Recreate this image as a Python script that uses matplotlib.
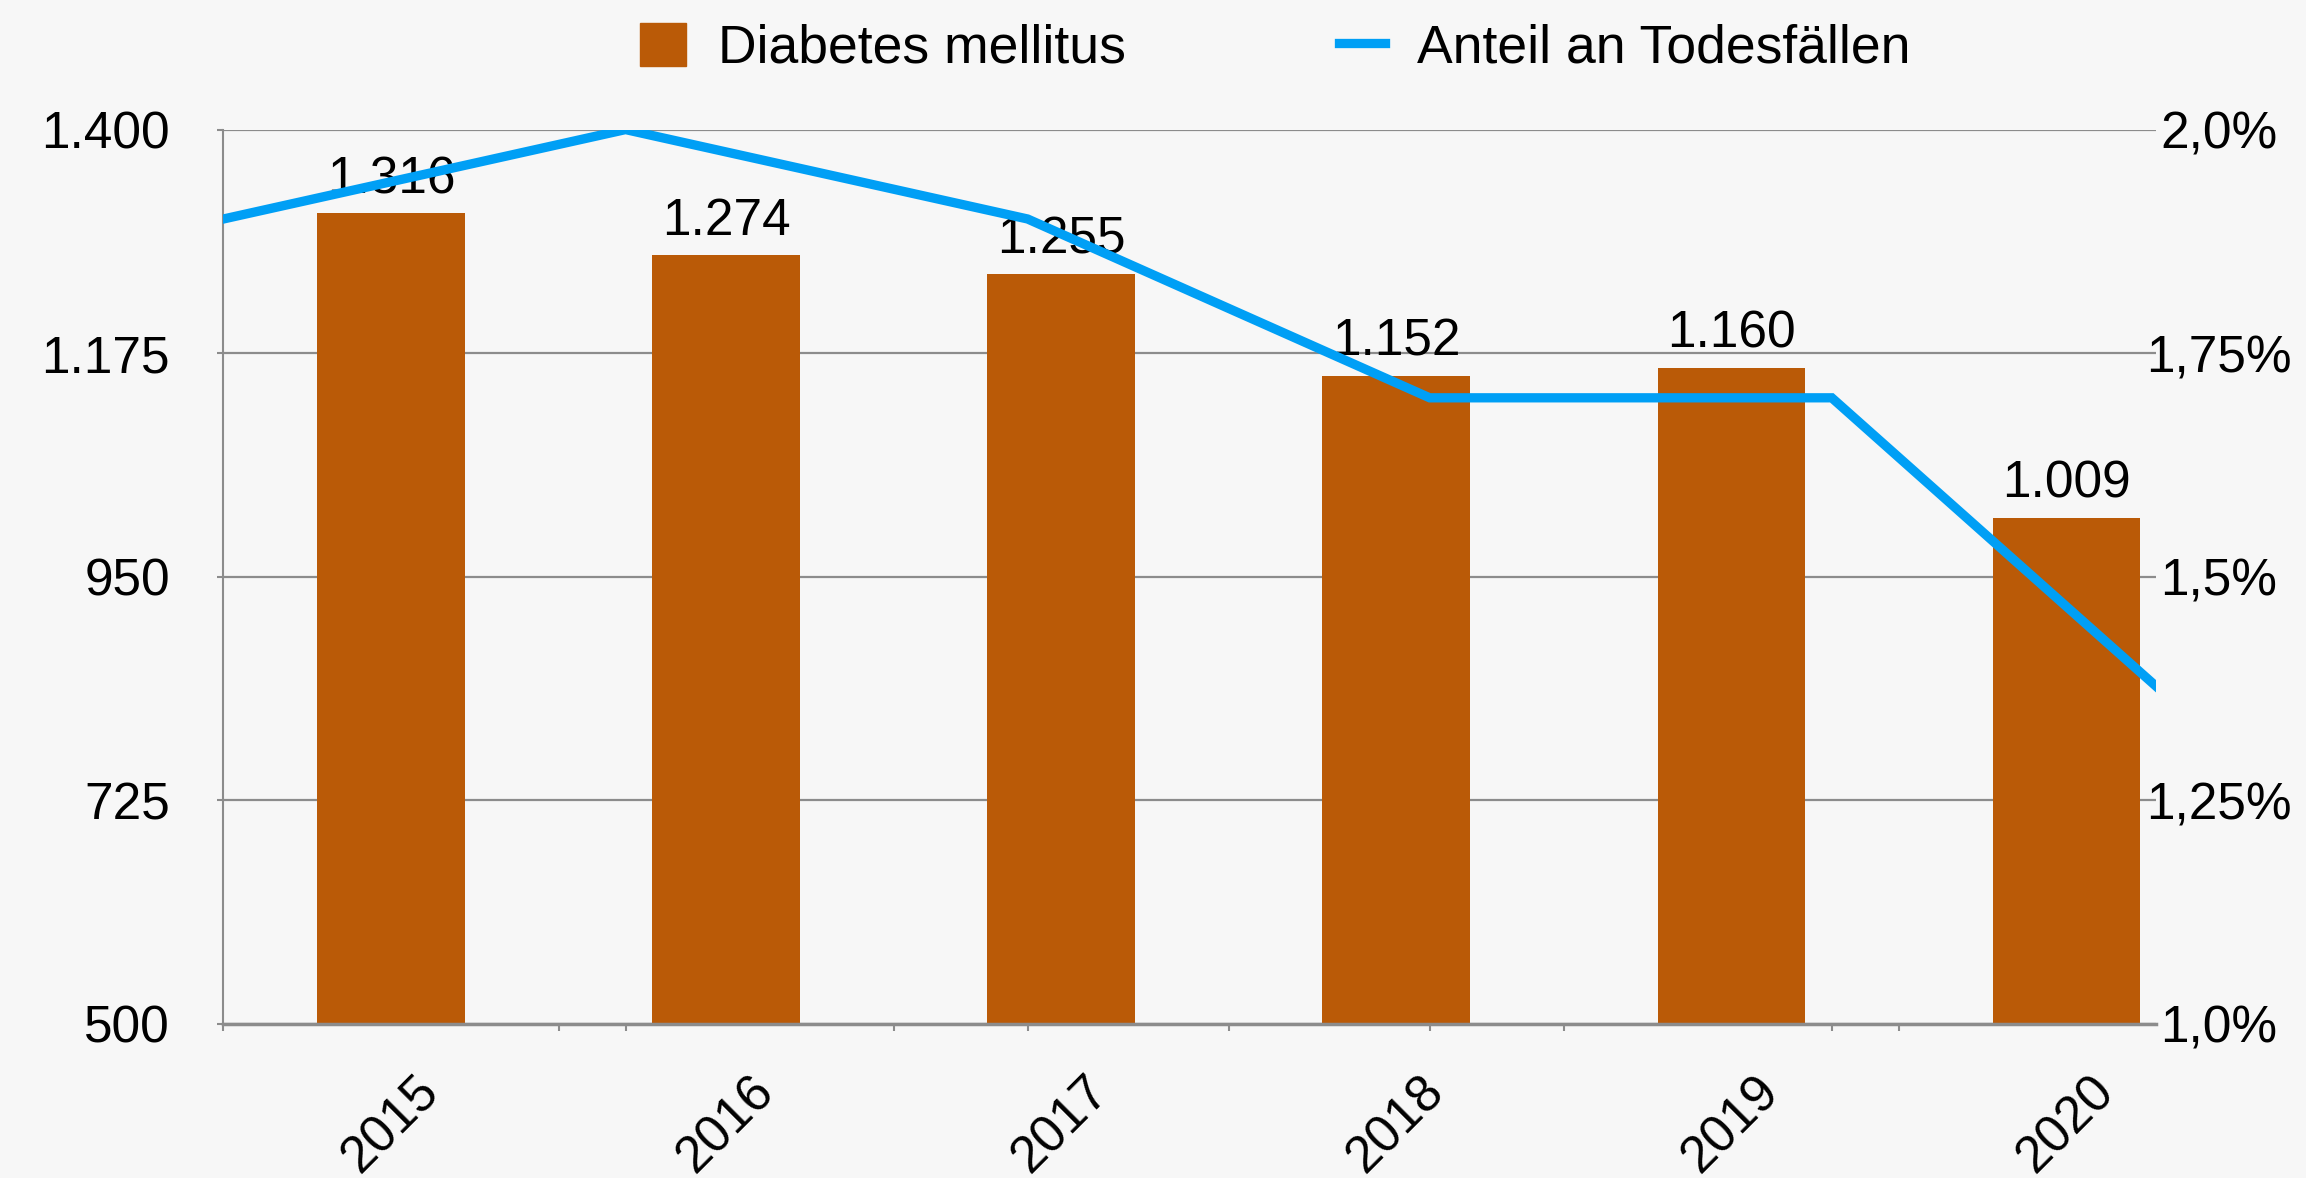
import numpy as np
import matplotlib.pyplot as plt
from matplotlib.lines import Line2D
from matplotlib.patches import Patch

plt.rcParams['font.family'] = ['Liberation Sans', 'DejaVu Sans']

# Daten
jahre = ['2015', '2016', '2017', '2018', '2019', '2020']
todesfaelle = [1316, 1274, 1255, 1152, 1160, 1009]
anteil = [1.9, 2.0, 1.9, 1.7, 1.7, 1.3]  # in %
links_ticks = [500, 725, 950, 1175, 1400]
links_labels = ['500', '725', '950', '1.175', '1.400']
rechts_ticks = [1.0, 1.25, 1.5, 1.75, 2.0]
rechts_labels = ['1,0%', '1,25%', '1,5%', '1,75%', '2,0%']

bar_farbe = '#BA5A07'
linie_farbe = '#009FF5'
grau = '#8C8C8C'
hg = '#F7F7F7'
fs = 37

fig = plt.figure(figsize=(23.06, 11.78), dpi=100, facecolor=hg)
ax = fig.add_axes([0.0969, 0.131, 0.935 - 0.0969, 0.890 - 0.131], facecolor=hg)

n = len(jahre)
x = np.arange(n) + 0.5
ax.bar(x, todesfaelle, width=0.44, color=bar_farbe, zorder=2)
ax.set_xlim(0, 5.768)
ax.set_ylim(500, 1400)

# Werte über den Balken
for xi, v in zip(x, todesfaelle):
    ax.annotate(f'{v:,}'.replace(',', '.'), (xi, v), xytext=(0, 6.5),
                textcoords='offset points', ha='center', va='bottom', fontsize=fs, zorder=3)

ax.set_yticks(links_ticks)
ax.set_yticklabels(links_labels, fontsize=fs)
ax.yaxis.grid(True, color=grau, linewidth=1.6, zorder=0)
ax.set_axisbelow(True)
ax.tick_params(axis='y', length=4.5, width=1.5, color=grau, pad=34)

ax.set_xticks(x)
ax.set_xticklabels(jahre, fontsize=fs, rotation=45, ha='center')
ax.tick_params(axis='x', which='major', length=0, pad=31)
minor = sorted(set(list(np.arange(0, 6)) + [i * 1.2 for i in range(5)]))
ax.set_xticks(minor, minor=True)
ax.tick_params(axis='x', which='minor', length=5, width=1.5, color=grau)

for s in ['top', 'right']:
    ax.spines[s].set_visible(False)
ax.spines['left'].set_color(grau)
ax.spines['left'].set_linewidth(1.5)
ax.spines['bottom'].set_color(grau)
ax.spines['bottom'].set_linewidth(2.5)

# Anteil an Todesfällen (zweite Achse)
ax2 = ax.twinx()
ax2.plot([i * 1.2 for i in range(n)], anteil, color=linie_farbe, linewidth=6.7,
         solid_joinstyle='miter', zorder=4)
ax2.set_ylim(1.0, 2.0)
ax2.set_yticks(rechts_ticks)
ax2.set_yticklabels(rechts_labels, fontsize=fs)
for lab in ax2.get_yticklabels():
    lab.set_horizontalalignment('center')
ax2.tick_params(axis='y', length=0, pad=45)
for s in ax2.spines.values():
    s.set_visible(False)

handles = [Patch(color=bar_farbe), Line2D([0], [0], color=linie_farbe, linewidth=6.7)]
fig.legend(handles, ['Diabetes mellitus', 'Anteil an Todesfällen'], loc='center',
           bbox_to_anchor=(0.553, 0.959), ncol=2, frameon=False, fontsize=38.5,
           handlelength=0.85, handleheight=0.85, handletextpad=0.6, columnspacing=4.0)

fig.savefig('out.png', dpi=100, facecolor=hg)
